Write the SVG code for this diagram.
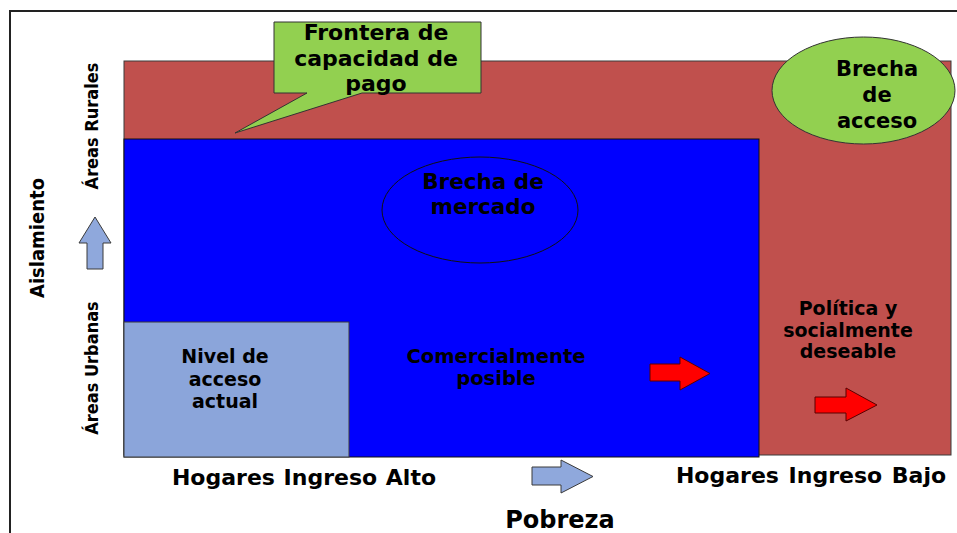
<svg xmlns="http://www.w3.org/2000/svg" width="957" height="533" viewBox="0 0 957 533">
<style>
.t{font-family:"DejaVu Sans",Verdana,sans-serif;font-weight:bold;fill:#000;text-anchor:middle}
.n{font-family:"DejaVu Sans Condensed","Liberation Sans",Arial,sans-serif;font-weight:bold;font-stretch:condensed;fill:#000;text-anchor:middle}
.red{fill:#FF0000;stroke:#5a0000;stroke-width:1}
.lb{fill:#8FA8DC;stroke:#3a3a3a;stroke-width:1}
</style>
<rect width="957" height="533" fill="#fff"/>
<path d="M10,533 V11 H957" fill="none" stroke="#222" stroke-width="2"/>
<g id="rural-zone">
<rect x="124" y="61" width="827" height="394" fill="#C0504D" stroke="#3a3a3a" stroke-width="1"/>
</g>
<g id="commercial-zone">
<rect x="124" y="139" width="635" height="318" fill="#0000FF" stroke="#111" stroke-width="1"/>
<text class="t" font-size="19.5" x="496" y="363">Comercialmente</text>
<text class="t" font-size="19.5" x="496" y="385">posible</text>
</g>
<g id="current-access">
<rect x="124" y="322" width="225" height="135" fill="#8BA5DA" stroke="#3a3a3a" stroke-width="1"/>
<text class="t" font-size="19" x="225" y="363">Nivel de</text>
<text class="t" font-size="19" x="225" y="386">acceso</text>
<text class="t" font-size="19" x="225" y="408">actual</text>
</g>
<g id="market-gap">
<ellipse cx="480" cy="210" rx="98" ry="53" fill="none" stroke="#111" stroke-width="1"/>
<text class="t" font-size="21.5" x="483" y="189">Brecha de</text>
<text class="t" font-size="21.5" x="483" y="214">mercado</text>
</g>
<g id="policy">
<text class="t" font-size="19" x="848" y="315">Política y</text>
<text class="t" font-size="19" x="848" y="337">socialmente</text>
<text class="t" font-size="19" x="848" y="358">deseable</text>
</g>
<g id="frontier-callout">
<path d="M274,22 H481 V93 H362 L235,133 L307,93 H274 Z" fill="#92D050" stroke="#333" stroke-width="1"/>
<text class="t" font-size="22" x="376" y="40">Frontera de</text>
<text class="t" font-size="22" x="376" y="66">capacidad de</text>
<text class="t" font-size="22" x="376" y="91">pago</text>
</g>
<g id="access-gap">
<ellipse cx="863.5" cy="90.5" rx="91.5" ry="53.5" fill="#92D050" stroke="#333" stroke-width="1"/>
<text class="t" font-size="21" x="877" y="76">Brecha</text>
<text class="t" font-size="21" x="877" y="102">de</text>
<text class="t" font-size="21" x="877" y="128">acceso</text>
</g>
<g id="arrows">
<path class="red" d="M650,364 H680 V357 L710,373.5 L680,390 V381 H650 Z"/>
<path class="red" d="M815,397 H846 V388 L877,405 L846,421 V413 H815 Z"/>
<path class="lb" d="M532,467 H561 V460 L593,476.5 L561,493 V485 H532 Z"/>
<path class="lb" d="M87,269 V243 H79 L95,217 L111,243 H103 V269 Z"/>
</g>
<g id="axis-labels">
<text class="t" font-size="22" word-spacing="1" x="304" y="485">Hogares Ingreso Alto</text>
<text class="t" font-size="22" word-spacing="2" x="811" y="483">Hogares Ingreso Bajo</text>
<text class="t" font-size="24" x="560" y="528">Pobreza</text>
<text class="n" font-size="20" transform="translate(44,238) rotate(-90)">Aislamiento</text>
<text class="n" font-size="18" transform="translate(98,126) rotate(-90)">Áreas Rurales</text>
<text class="n" font-size="18" transform="translate(98,368) rotate(-90)">Áreas Urbanas</text>
</g>
</svg>
